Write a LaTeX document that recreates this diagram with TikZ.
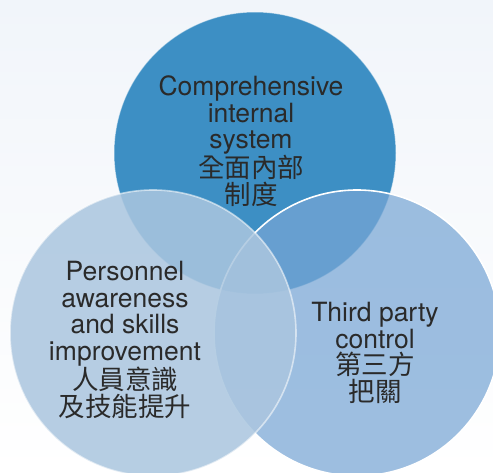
\documentclass[tikz,border=0pt]{standalone}
\usepackage{fontspec}
\setmainfont{TeX Gyre Heros}
\newfontfamily\cjk{Noto Sans CJK TC}
\definecolor{bgtop}{HTML}{F1F5FA}
\definecolor{topblue}{HTML}{3D8FC4}
\definecolor{rightblue}{HTML}{78A6D5}
\definecolor{leftblue}{HTML}{ABC6DF}
\definecolor{txt}{HTML}{2A2A2A}
\tikzset{
  lbl/.style={align=center, inner sep=0pt, text=txt, font=\fontsize{26.5}{26.5}\selectfont},
}
\begin{document}
\begin{tikzpicture}[x=1pt,y=-1pt]
\useasboundingbox (0,0) rectangle (493,473);
\shade[top color=bgtop, bottom color=white] (0,0) rectangle (493,473);
\fill[topblue] (255,153) circle[radius=141];
\draw[white, opacity=0.5, line width=1pt] (255,153) circle[radius=141];
\fill[rightblue, fill opacity=0.72] (357,333) circle[radius=143];
\draw[white, line width=1.6pt] (357,333) circle[radius=143];
\fill[leftblue, fill opacity=0.86] (153,333) circle[radius=143];
\draw[white, opacity=0.55, line width=1.6pt] (153,333) circle[radius=143];
\node[lbl] (top) at (251,141) {Comprehensive\\internal\\system\\{\cjk 全面內部}\\{\cjk 制度}};
\node[lbl] (left) at (125,340) {Personnel\\awareness\\and skills\\improvement\\{\cjk 人員意識}\\{\cjk 及技能提升}};
\node[lbl] (right) at (375,353) {Third party\\control\\{\cjk 第三方}\\{\cjk 把關}};
\end{tikzpicture}
\end{document}
